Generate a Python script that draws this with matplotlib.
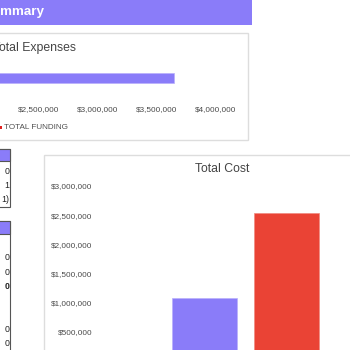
import matplotlib
matplotlib.use("Agg")
import matplotlib.pyplot as plt
from matplotlib.patches import Rectangle
from matplotlib.ticker import FuncFormatter

plt.rcParams['font.family'] = ['Liberation Sans', 'DejaVu Sans']

# ---- data ----
expense_labels = ["Total Expenses"]
expense_values = [3646000]
expense_ticks = [2500000, 3000000, 3500000, 4000000]

cost_labels = ["Total Expenses", "Total Funding"]
cost_values = [1079000, 2534000]
cost_ticks = [500000, 1000000, 1500000, 2000000, 2500000, 3000000]

table1_cells = ["0", "1", "1)"]
table2_cells = ["0", "0", "0", "", "", "0", "0"]

PURPLE = "#8A7CF9"
RED = "#EA4335"
BORDER = "#DDDDDD"
TICK_COLOR = "#4A4A4A"
TITLE_COLOR = "#444444"

W = H = 350
fig = plt.figure(figsize=(3.5, 3.5), dpi=100)
fig.patch.set_facecolor("white")

# background canvas in pixel coordinates
bg = fig.add_axes([0, 0, 1, 1], zorder=0)
bg.set_xlim(0, W)
bg.set_ylim(H, 0)
bg.axis("off")

def rect(x, y, w, h, **kw):
    bg.add_patch(Rectangle((x, y), w, h, **kw))

# header
rect(-10, -5, 262, 30, facecolor=PURPLE, edgecolor="none")
bg.text(-16.8, 12.5, "Summary", color="white", fontsize=9.6, fontweight="bold",
        ha="left", va="center")

# top card
rect(-10, 33, 258, 107, facecolor="white", edgecolor=BORDER, linewidth=1)
bg.text(-7.4, 47.5, "Total Expenses", color=TITLE_COLOR, fontsize=8.8,
        ha="left", va="center")
# legend
rect(-1, 125.5, 3, 3, facecolor="#E0201F", edgecolor="none")
bg.text(4.5, 127.5, "TOTAL FUNDING", color="#505050", fontsize=5.9,
        ha="left", va="center")

# bottom card
rect(43.5, 155, 320, 210, facecolor="white", edgecolor=BORDER, linewidth=1)
bg.text(222, 168.5, "Total Cost", color=TITLE_COLOR, fontsize=8.8,
        ha="center", va="center")

# left table fragments
rect(-10, 148.5, 20, 58, facecolor="white", edgecolor="#555555", linewidth=0.8)
rect(-10, 148.5, 20, 12.5, facecolor=PURPLE, edgecolor="#555555", linewidth=0.8)
for i, t in enumerate(table1_cells):
    bg.text(9.5, 172 + i * 14, t, color="#222222", fontsize=6.3, ha="right", va="center")

rect(-10, 221, 20, 140, facecolor="white", edgecolor="#555555", linewidth=0.8)
rect(-10, 221, 20, 13, facecolor=PURPLE, edgecolor="#555555", linewidth=0.8)
for i, t in enumerate(table2_cells):
    if t:
        bg.text(9.5, 258 + i * 14.3, t, color="#222222", fontsize=6.3, ha="right",
                va="center", fontweight="bold" if i == 2 else "normal")

money = FuncFormatter(lambda v, p: "${:,.0f}".format(v))

def px_box(x0, y0, x1, y1):
    return [x0 / W, 1 - y1 / H, (x1 - x0) / W, (y1 - y0) / H]

# ---- top chart: horizontal bar ----
ax1 = fig.add_axes(px_box(-257.7, 58, 240, 98), zorder=2)
ax1.patch.set_alpha(0)
ax1.barh(range(len(expense_values)), expense_values, height=0.25, color=PURPLE,
         edgecolor="#B9B0FB", linewidth=0.5)
ax1.set_ylim(-0.5, 0.5)
ax1.set_xlim(0, 4203000)
ax1.set_xticks(expense_ticks)
ax1.xaxis.set_major_formatter(money)
ax1.set_yticks([])
ax1.tick_params(axis="x", length=0, pad=6, labelsize=5.9, labelcolor=TICK_COLOR)
for s in ax1.spines.values():
    s.set_visible(False)

# ---- bottom chart: vertical bars ----
ax2 = fig.add_axes(px_box(100, 186, 350, 361), zorder=2)
ax2.patch.set_alpha(0)
ax2.bar(range(len(cost_values)), cost_values, width=0.793, color=[PURPLE, RED],
        edgecolor=["#B9B0FB", "#F08A80"], linewidth=0.5)
ax2.set_xlim(-1.274, 1.774)
ax2.set_ylim(0, 3000000)
ax2.set_yticks(cost_ticks)
ax2.yaxis.set_major_formatter(money)
ax2.set_xticks([])
ax2.tick_params(axis="y", length=0, pad=5.6, labelsize=5.9, labelcolor=TICK_COLOR)
for s in ax2.spines.values():
    s.set_visible(False)

fig.savefig("out.png", dpi=100, facecolor="white")
